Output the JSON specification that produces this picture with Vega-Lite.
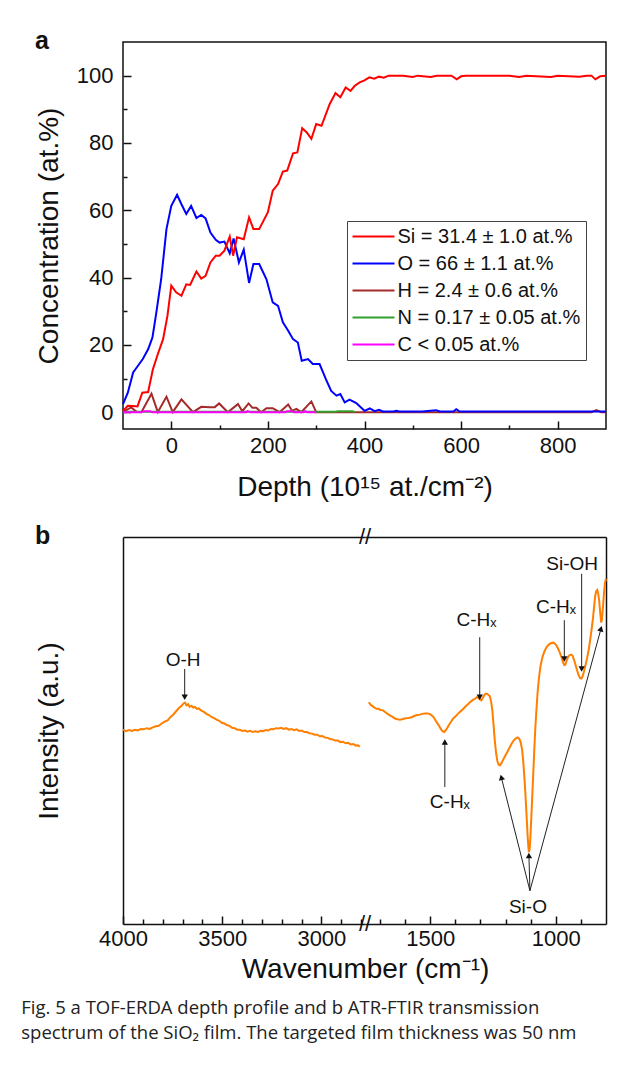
{
  "$schema": "https://vega.github.io/schema/vega-lite/v6.json",
  "background": "white",
  "padding": {"left": 21, "top": 28, "right": 5, "bottom": 5},
  "config": {
    "font": "Liberation Sans",
    "view": {"stroke": null},
    "axis": {"grid": false, "labelFlush": false, "labelOverlap": false, "labelFont": "Liberation Sans", "labelFontSize": 22, "labelColor": "#111", "titleFont": "Liberation Sans", "titleFontSize": 28, "titleFontWeight": "normal", "titleColor": "#111", "tickColor": "#111", "tickWidth": 1.5, "domainColor": "#111", "domainWidth": 1.5}
  },
  "title": {"text": ["Fig. 5 a TOF-ERDA depth profile and b ATR-FTIR transmission", "spectrum of the SiO₂ film. The targeted film thickness was 50 nm"], "orient": "bottom", "anchor": "start", "frame": "bounds", "font": "Open Sans", "fontSize": 18.5, "fontWeight": "normal", "color": "#222", "lineHeight": 25, "offset": 16, "dx": -13, "baseline": "top"},
  "spacing": 22,
  "vconcat": [
    {
      "title": {"text": "a", "anchor": "start", "frame": "bounds", "font": "Liberation Sans", "fontSize": 25, "fontWeight": "bold", "color": "#111", "baseline": "alphabetic", "offset": -32},
      "width": 483,
      "height": 387,
      "view": {"stroke": "#111", "strokeWidth": 1.5},
      "data": {"values": [
        {"e":"Si","d":-100,"c":0.4},{"e":"Si","d":-90,"c":1.9},{"e":"Si","d":-80,"c":1.8},{"e":"Si","d":-70,"c":1.7},{"e":"Si","d":-60,"c":5.8},{"e":"Si","d":-48,"c":6.0},{"e":"Si","d":-38,"c":12.8},{"e":"Si","d":-28,"c":17.2},{"e":"Si","d":-17,"c":21.7},{"e":"Si","d":-8,"c":28.6},{"e":"Si","d":0,"c":37.6},{"e":"Si","d":10,"c":35.6},{"e":"Si","d":21,"c":34.6},{"e":"Si","d":31,"c":38.0},{"e":"Si","d":39,"c":37.8},{"e":"Si","d":52,"c":41.8},{"e":"Si","d":62,"c":39.7},{"e":"Si","d":71,"c":40.5},{"e":"Si","d":81,"c":44.5},{"e":"Si","d":92,"c":46.5},{"e":"Si","d":100,"c":46.5},{"e":"Si","d":110,"c":48.0},{"e":"Si","d":121,"c":52.2},{"e":"Si","d":128,"c":46.5},{"e":"Si","d":136,"c":52.0},{"e":"Si","d":150,"c":51.4},{"e":"Si","d":161,"c":57.9},{"e":"Si","d":170,"c":54.4},{"e":"Si","d":182,"c":54.4},{"e":"Si","d":200,"c":59.4},{"e":"Si","d":210,"c":65.8},{"e":"Si","d":221,"c":67.8},{"e":"Si","d":231,"c":71.5},{"e":"Si","d":240,"c":71.8},{"e":"Si","d":252,"c":76.9},{"e":"Si","d":261,"c":77.2},{"e":"Si","d":271,"c":84.4},{"e":"Si","d":280,"c":83.2},{"e":"Si","d":290,"c":81.2},{"e":"Si","d":300,"c":85.6},{"e":"Si","d":311,"c":85.1},{"e":"Si","d":328,"c":91.6},{"e":"Si","d":340,"c":94.8},{"e":"Si","d":350,"c":93.6},{"e":"Si","d":361,"c":96.5},{"e":"Si","d":371,"c":95.5},{"e":"Si","d":380,"c":97.0},{"e":"Si","d":390,"c":98.0},{"e":"Si","d":400,"c":98.6},{"e":"Si","d":410,"c":99.5},{"e":"Si","d":420,"c":99.1},{"e":"Si","d":430,"c":99.7},{"e":"Si","d":440,"c":99.4},{"e":"Si","d":450,"c":100},{"e":"Si","d":480,"c":100},{"e":"Si","d":500,"c":99.6},{"e":"Si","d":510,"c":100},{"e":"Si","d":537,"c":99.6},{"e":"Si","d":550,"c":100},{"e":"Si","d":580,"c":100},{"e":"Si","d":591,"c":98.9},{"e":"Si","d":600,"c":99.8},{"e":"Si","d":610,"c":100},{"e":"Si","d":700,"c":100},{"e":"Si","d":720,"c":99.6},{"e":"Si","d":735,"c":100},{"e":"Si","d":786,"c":99.6},{"e":"Si","d":800,"c":100},{"e":"Si","d":845,"c":99.7},{"e":"Si","d":860,"c":100},{"e":"Si","d":870,"c":100},{"e":"Si","d":878,"c":98.9},{"e":"Si","d":888,"c":99.8},{"e":"Si","d":900,"c":100},
        {"e":"O","d":-100,"c":2.4},{"e":"O","d":-90,"c":5.8},{"e":"O","d":-79,"c":11.8},{"e":"O","d":-69,"c":13.8},{"e":"O","d":-59,"c":15.8},{"e":"O","d":-48,"c":18.7},{"e":"O","d":-39,"c":22.2},{"e":"O","d":-31,"c":29.6},{"e":"O","d":-21,"c":39.5},{"e":"O","d":-10,"c":54.4},{"e":"O","d":0,"c":61.3},{"e":"O","d":12,"c":64.6},{"e":"O","d":21,"c":61.8},{"e":"O","d":31,"c":58.9},{"e":"O","d":41,"c":61.3},{"e":"O","d":52,"c":57.7},{"e":"O","d":62,"c":58.6},{"e":"O","d":71,"c":57.6},{"e":"O","d":81,"c":53.4},{"e":"O","d":92,"c":51.2},{"e":"O","d":100,"c":50.4},{"e":"O","d":110,"c":50.7},{"e":"O","d":121,"c":47.2},{"e":"O","d":129,"c":51.6},{"e":"O","d":140,"c":44.5},{"e":"O","d":150,"c":48.3},{"e":"O","d":161,"c":38.4},{"e":"O","d":170,"c":44.0},{"e":"O","d":182,"c":44.0},{"e":"O","d":197,"c":39.5},{"e":"O","d":210,"c":32.6},{"e":"O","d":221,"c":31.6},{"e":"O","d":231,"c":26.7},{"e":"O","d":242,"c":24.2},{"e":"O","d":252,"c":21.7},{"e":"O","d":262,"c":20.7},{"e":"O","d":270,"c":15.3},{"e":"O","d":283,"c":15.8},{"e":"O","d":293,"c":14.3},{"e":"O","d":307,"c":14.3},{"e":"O","d":320,"c":9.8},{"e":"O","d":331,"c":6.3},{"e":"O","d":342,"c":4.9},{"e":"O","d":350,"c":5.4},{"e":"O","d":359,"c":2.9},{"e":"O","d":369,"c":3.7},{"e":"O","d":383,"c":2.7},{"e":"O","d":400,"c":0.4},{"e":"O","d":411,"c":1.1},{"e":"O","d":421,"c":0.3},{"e":"O","d":430,"c":0.7},{"e":"O","d":438,"c":0.2},{"e":"O","d":460,"c":0.2},{"e":"O","d":466,"c":0.4},{"e":"O","d":472,"c":0.2},{"e":"O","d":520,"c":0.2},{"e":"O","d":548,"c":0.6},{"e":"O","d":556,"c":0.2},{"e":"O","d":584,"c":0.2},{"e":"O","d":590,"c":0.9},{"e":"O","d":597,"c":0.2},{"e":"O","d":900,"c":0.2},
        {"e":"H","d":-100,"c":0.1},{"e":"H","d":-83,"c":1.4},{"e":"H","d":-72,"c":0.1},{"e":"H","d":-62,"c":0},{"e":"H","d":-41,"c":5.5},{"e":"H","d":-28,"c":0},{"e":"H","d":-10,"c":4.6},{"e":"H","d":3,"c":0},{"e":"H","d":21,"c":3.8},{"e":"H","d":45,"c":0},{"e":"H","d":62,"c":1.6},{"e":"H","d":79,"c":1.5},{"e":"H","d":90,"c":1.5},{"e":"H","d":99,"c":2.6},{"e":"H","d":117,"c":0},{"e":"H","d":138,"c":2.4},{"e":"H","d":147,"c":0.3},{"e":"H","d":160,"c":2.6},{"e":"H","d":168,"c":1.3},{"e":"H","d":176,"c":1.3},{"e":"H","d":186,"c":0},{"e":"H","d":197,"c":1.2},{"e":"H","d":210,"c":1.2},{"e":"H","d":224,"c":0},{"e":"H","d":242,"c":2.3},{"e":"H","d":250,"c":0.4},{"e":"H","d":259,"c":1.0},{"e":"H","d":269,"c":0},{"e":"H","d":290,"c":3.2},{"e":"H","d":300,"c":0},{"e":"H","d":870,"c":0},{"e":"H","d":880,"c":0.6},{"e":"H","d":890,"c":0},{"e":"H","d":900,"c":0},
        {"e":"N","d":-100,"c":0.1},{"e":"N","d":-40,"c":0.15},{"e":"N","d":50,"c":0.1},{"e":"N","d":150,"c":0.15},{"e":"N","d":250,"c":0.1},{"e":"N","d":340,"c":0.1},{"e":"N","d":345,"c":0.25},{"e":"N","d":375,"c":0.25},{"e":"N","d":380,"c":0.05},
        {"e":"C","d":-100,"c":0},{"e":"C","d":-62,"c":0},{"e":"C","d":-57,"c":0.3},{"e":"C","d":-44,"c":0.3},{"e":"C","d":-40,"c":0},{"e":"C","d":155,"c":0},{"e":"C","d":158,"c":0.3},{"e":"C","d":164,"c":0},{"e":"C","d":236,"c":0},{"e":"C","d":240,"c":0.3},{"e":"C","d":250,"c":0.3},{"e":"C","d":254,"c":0},{"e":"C","d":274,"c":0},{"e":"C","d":277,"c":0.3},{"e":"C","d":281,"c":0},{"e":"C","d":300,"c":0}
      ]},
      "encoding": {
        "x": {"field": "d", "type": "quantitative", "scale": {"domain": [-100, 900], "nice": false, "zero": false}, "axis": null},
        "y": {"field": "c", "type": "quantitative", "scale": {"domain": [-5, 110], "nice": false, "zero": false}, "axis": null},
        "color": {"field": "e", "type": "nominal", "scale": {"domain": ["Si", "O", "H", "N", "C"], "range": ["#ff0000", "#0000ff", "#a52a2a", "#33a02c", "#ff00ff"]},
          "legend": {"title": null, "orient": "none", "legendX": 224, "legendY": 179, "symbolType": "stroke", "symbolSize": 2116, "symbolOffset": -5, "clipHeight": 20, "labelFontSize": 20, "labelFont": "Liberation Sans", "labelColor": "#111", "labelOffset": 2, "rowPadding": 7, "padding": 5.5, "strokeColor": "#444", "fillColor": "white", "labelLimit": 400,
            "labelExpr": "{'Si': 'Si = 31.4 ± 1.0 at.%', 'O': 'O = 66 ± 1.1 at.%', 'H': 'H = 2.4 ± 0.6 at.%', 'N': 'N = 0.17 ± 0.05 at.%', 'C': 'C < 0.05 at.%'}[datum.label]"}},
        "strokeWidth": {"field": "e", "type": "nominal", "scale": {"domain": ["Si", "O", "H", "N", "C"], "range": [2, 2, 1.2, 1.5, 1.5]},
          "legend": {"title": null, "orient": "none", "legendX": 224, "legendY": 179, "symbolType": "stroke", "symbolSize": 2116, "symbolOffset": -5, "clipHeight": 20, "labelFontSize": 20, "labelFont": "Liberation Sans", "labelColor": "#111", "labelOffset": 2, "rowPadding": 7, "padding": 5.5, "strokeColor": "#444", "fillColor": "white", "labelLimit": 400,
            "labelExpr": "{'Si': 'Si = 31.4 ± 1.0 at.%', 'O': 'O = 66 ± 1.1 at.%', 'H': 'H = 2.4 ± 0.6 at.%', 'N': 'N = 0.17 ± 0.05 at.%', 'C': 'C < 0.05 at.%'}[datum.label]"}}
      },
      "layer": [
        {"transform": [{"filter": "datum.e === 'H'"}], "mark": {"type": "line"},
          "encoding": {
            "x": {"field": "d", "type": "quantitative", "scale": {"domain": [-100, 900], "nice": false, "zero": false},
              "axis": {"orient": "bottom", "values": [0, 200, 400, 600, 800], "format": "d", "tickSize": -8, "labelPadding": 14, "domain": false, "title": "Depth (10¹⁵ at./cm⁻²)", "titleX": 241.5, "titleY": 58, "titleAlign": "center", "titleBaseline": "middle"}},
            "y": {"field": "c", "type": "quantitative", "scale": {"domain": [-5, 110], "nice": false, "zero": false},
              "axis": {"orient": "left", "values": [0, 20, 40, 60, 80, 100], "format": "d", "tickSize": -8, "labelPadding": 18, "domain": false, "title": "Concentration (at.%)", "titleX": -74, "titleBaseline": "middle", "titleAlign": "center"}}
          }},
        {"transform": [{"filter": "datum.e === 'N'"}], "mark": {"type": "line"},
          "encoding": {
            "x": {"field": "d", "type": "quantitative", "scale": {"domain": [-100, 900], "nice": false, "zero": false},
              "axis": {"orient": "bottom", "values": [100, 300, 500, 700], "tickSize": -4, "labels": false, "domain": false, "title": null}},
            "y": {"field": "c", "type": "quantitative", "scale": {"domain": [-5, 110], "nice": false, "zero": false},
              "axis": {"orient": "left", "values": [10, 30, 50, 70, 90], "tickSize": -4, "labels": false, "domain": false, "title": null}}
          }},
        {"transform": [{"filter": "datum.e === 'C'"}], "mark": {"type": "line"}},
        {"transform": [{"filter": "datum.e === 'O'"}], "mark": {"type": "line"}},
        {"transform": [{"filter": "datum.e === 'Si'"}], "mark": {"type": "line"}}
      ],
      "resolve": {"axis": {"x": "independent", "y": "independent"}}
    },
    {
      "title": {"text": "b", "anchor": "start", "frame": "bounds", "font": "Liberation Sans", "fontSize": 25, "fontWeight": "bold", "color": "#111", "baseline": "alphabetic", "offset": -43},
      "spacing": 0,
      "bounds": "flush",
      "hconcat": [
        {
          "width": 242,
          "height": 387,
          "layer": [
            {"data": {"values": [
              {"w":4000,"i":50.2},{"w":3985,"i":49.8},{"w":3970,"i":50.1},{"w":3955,"i":49.9},{"w":3940,"i":50.2},{"w":3925,"i":50.0},{"w":3910,"i":50.4},{"w":3895,"i":50.3},{"w":3880,"i":50.6},{"w":3865,"i":50.4},{"w":3850,"i":50.8},{"w":3835,"i":51.1},{"w":3820,"i":51.2},{"w":3805,"i":51.8},{"w":3790,"i":52.3},{"w":3775,"i":52.6},{"w":3760,"i":53.5},{"w":3745,"i":54.2},{"w":3730,"i":55.1},{"w":3718,"i":55.8},{"w":3706,"i":56.3},{"w":3695,"i":57.0},{"w":3688,"i":57.2},{"w":3680,"i":56.5},{"w":3672,"i":56.8},{"w":3664,"i":56.1},{"w":3655,"i":56.4},{"w":3646,"i":55.9},{"w":3637,"i":56.1},{"w":3628,"i":55.6},{"w":3618,"i":55.7},{"w":3605,"i":55.1},{"w":3592,"i":54.8},{"w":3580,"i":54.3},{"w":3567,"i":54.0},{"w":3554,"i":53.5},{"w":3541,"i":53.2},{"w":3528,"i":52.8},{"w":3515,"i":52.5},{"w":3502,"i":52.0},{"w":3489,"i":51.8},{"w":3476,"i":51.4},{"w":3463,"i":51.2},{"w":3450,"i":50.7},{"w":3437,"i":50.6},{"w":3424,"i":50.2},{"w":3411,"i":50.2},{"w":3398,"i":49.9},{"w":3385,"i":50.0},{"w":3372,"i":49.7},{"w":3359,"i":49.9},{"w":3346,"i":49.6},{"w":3333,"i":49.8},{"w":3320,"i":49.6},{"w":3307,"i":49.9},{"w":3294,"i":49.8},{"w":3281,"i":50.1},{"w":3268,"i":50.0},{"w":3255,"i":50.4},{"w":3242,"i":50.3},{"w":3229,"i":50.6},{"w":3216,"i":50.5},{"w":3203,"i":50.7},{"w":3190,"i":50.4},{"w":3177,"i":50.6},{"w":3164,"i":50.2},{"w":3151,"i":50.4},{"w":3138,"i":50.1},{"w":3125,"i":50.3},{"w":3112,"i":49.9},{"w":3099,"i":50.0},{"w":3086,"i":49.6},{"w":3073,"i":49.6},{"w":3060,"i":49.3},{"w":3047,"i":49.2},{"w":3034,"i":48.9},{"w":3021,"i":48.9},{"w":3008,"i":48.5},{"w":2995,"i":48.6},{"w":2982,"i":48.2},{"w":2969,"i":48.1},{"w":2956,"i":47.8},{"w":2943,"i":47.7},{"w":2930,"i":47.4},{"w":2917,"i":47.4},{"w":2904,"i":47.0},{"w":2891,"i":47.1},{"w":2878,"i":46.7},{"w":2865,"i":46.8},{"w":2852,"i":46.4},{"w":2839,"i":46.5},{"w":2826,"i":46.1},{"w":2815,"i":46.2},{"w":2806,"i":45.8}
            ]},
              "mark": {"type": "line", "color": "#ff7f00", "strokeWidth": 2},
              "encoding": {
                "x": {"field": "w", "type": "quantitative", "scale": {"domain": [4000, 2780], "nice": false, "zero": false},
                  "axis": {"orient": "bottom", "values": [4000, 3500, 3000], "format": "d", "tickSize": -8, "labelPadding": 12, "domain": true, "title": "Wavenumber (cm⁻¹)", "titleX": 242, "titleY": 45, "titleAlign": "center", "titleBaseline": "middle"}},
                "y": {"field": "i", "type": "quantitative", "scale": {"domain": [0, 100], "nice": false, "zero": false},
                  "axis": {"orient": "left", "ticks": false, "labels": false, "domain": true, "title": "Intensity (a.u.)", "titleX": -74, "titleBaseline": "middle", "titleAlign": "center"}}
              }},
            {"data": {"values": [{"w": 3689, "i": 65.9, "w2": 3689, "i2": 58.6}]},
              "mark": {"type": "rule", "color": "#222", "strokeWidth": 1},
              "encoding": {
                "x": {"field": "w", "type": "quantitative", "scale": {"domain": [4000, 2780], "nice": false, "zero": false},
                  "axis": {"orient": "bottom", "values": [3900, 3800, 3700, 3600, 3400, 3300, 3200, 3100, 2900, 2800], "tickSize": -5, "labels": false, "domain": false, "title": null}},
                "y": {"field": "i", "type": "quantitative", "scale": {"domain": [0, 100], "nice": false, "zero": false}, "axis": null},
                "x2": {"field": "w2"},
                "y2": {"field": "i2"}
              }},
            {"data": {"values": [{"w": 3689, "i": 65.9, "w2": 3689, "i2": 58.6}]},
              "transform": [{"calculate": "atan2((datum.w - datum.w2) * 0.1984, (datum.i2 - datum.i) * 3.87) * 180 / PI", "as": "ang"}],
              "mark": {"type": "point", "shape": "triangle-up", "filled": true, "size": 40, "color": "#111", "opacity": 1},
              "encoding": {
                "x": {"field": "w2", "type": "quantitative", "scale": {"domain": [4000, 2780], "nice": false, "zero": false},
                  "axis": {"orient": "top", "ticks": false, "labels": false, "domain": true, "title": null}},
                "y": {"field": "i2", "type": "quantitative", "scale": {"domain": [0, 100], "nice": false, "zero": false}, "axis": null},
                "angle": {"field": "ang", "type": "quantitative", "scale": null}
              }},
            {"data": {"values": [{"w": 3697, "i": 68.1, "t": "O-H"}]},
              "mark": {"type": "text", "font": "Liberation Sans", "fontSize": 19, "color": "#111", "align": "center", "baseline": "middle"},
              "encoding": {
                "x": {"field": "w", "type": "quantitative", "scale": {"domain": [4000, 2780], "nice": false, "zero": false}, "axis": null},
                "y": {"field": "i", "type": "quantitative", "scale": {"domain": [0, 100], "nice": false, "zero": false}, "axis": null},
                "text": {"field": "t"}
              }}
          ],
          "resolve": {"axis": {"x": "independent", "y": "independent"}}
        },
        {
          "width": 241,
          "height": 387,
          "layer": [
            {"data": {"values": [
              {"w":1745,"i":57.3},{"w":1737,"i":56.6},{"w":1730,"i":56.3},{"w":1722,"i":55.9},{"w":1714,"i":55.6},{"w":1706,"i":55.6},{"w":1698,"i":55.3},{"w":1688,"i":55.2},{"w":1680,"i":54.8},{"w":1670,"i":54.3},{"w":1661,"i":53.9},{"w":1652,"i":53.6},{"w":1641,"i":53.1},{"w":1630,"i":52.9},{"w":1621,"i":52.8},{"w":1612,"i":52.9},{"w":1602,"i":53.1},{"w":1592,"i":53.2},{"w":1582,"i":53.3},{"w":1572,"i":53.5},{"w":1562,"i":53.8},{"w":1552,"i":54.0},{"w":1542,"i":54.1},{"w":1532,"i":54.3},{"w":1522,"i":54.4},{"w":1512,"i":54.4},{"w":1502,"i":54.3},{"w":1494,"i":53.9},{"w":1486,"i":53.4},{"w":1479,"i":52.6},{"w":1472,"i":51.9},{"w":1465,"i":51.2},{"w":1458,"i":50.4},{"w":1451,"i":49.8},{"w":1445,"i":49.6},{"w":1439,"i":50.0},{"w":1432,"i":50.7},{"w":1425,"i":51.5},{"w":1418,"i":52.2},{"w":1410,"i":53.0},{"w":1400,"i":53.6},{"w":1390,"i":54.3},{"w":1380,"i":54.9},{"w":1370,"i":55.5},{"w":1360,"i":56.2},{"w":1350,"i":56.8},{"w":1340,"i":57.4},{"w":1330,"i":57.9},{"w":1322,"i":58.2},{"w":1314,"i":58.6},{"w":1308,"i":58.4},{"w":1302,"i":58.0},{"w":1297,"i":57.8},{"w":1292,"i":58.3},{"w":1286,"i":59.0},{"w":1280,"i":59.5},{"w":1274,"i":59.5},{"w":1268,"i":59.2},{"w":1263,"i":58.9},{"w":1258,"i":57.6},{"w":1253,"i":55.4},{"w":1248,"i":51.5},{"w":1243,"i":47.4},{"w":1238,"i":44.3},{"w":1233,"i":42.2},{"w":1228,"i":41.2},{"w":1223,"i":41.0},{"w":1217,"i":41.5},{"w":1210,"i":42.4},{"w":1202,"i":43.4},{"w":1194,"i":44.3},{"w":1185,"i":45.5},{"w":1176,"i":46.6},{"w":1168,"i":47.4},{"w":1160,"i":47.9},{"w":1152,"i":48.2},{"w":1146,"i":47.9},{"w":1140,"i":47.0},{"w":1134,"i":45.0},{"w":1129,"i":41.5},{"w":1124,"i":36.8},{"w":1120,"i":32.5},{"w":1116,"i":27.5},{"w":1112,"i":22.5},{"w":1109,"i":19.8},{"w":1107,"i":18.6},{"w":1104,"i":19.5},{"w":1101,"i":22.5},{"w":1098,"i":26.8},{"w":1094,"i":32.5},{"w":1090,"i":38.5},{"w":1086,"i":44.5},{"w":1082,"i":50.0},{"w":1077,"i":55.5},{"w":1072,"i":60.2},{"w":1066,"i":64.2},{"w":1060,"i":67.0},{"w":1053,"i":69.0},{"w":1045,"i":70.5},{"w":1037,"i":71.5},{"w":1028,"i":72.2},{"w":1018,"i":72.6},{"w":1009,"i":72.7},{"w":1000,"i":72.2},{"w":992,"i":71.3},{"w":984,"i":70.1},{"w":977,"i":68.9},{"w":971,"i":67.6},{"w":966,"i":66.9},{"w":962,"i":67.0},{"w":957,"i":68.0},{"w":951,"i":69.0},{"w":945,"i":69.5},{"w":939,"i":69.6},{"w":933,"i":69.3},{"w":927,"i":68.2},{"w":921,"i":66.9},{"w":915,"i":65.5},{"w":909,"i":64.3},{"w":903,"i":63.5},{"w":898,"i":63.4},{"w":893,"i":64.0},{"w":888,"i":65.2},{"w":882,"i":66.8},{"w":876,"i":68.5},{"w":870,"i":70.4},{"w":864,"i":73.0},{"w":858,"i":75.8},{"w":852,"i":78.9},{"w":847,"i":82.2},{"w":843,"i":84.8},{"w":839,"i":86.0},{"w":835,"i":86.3},{"w":831,"i":85.4},{"w":827,"i":83.4},{"w":823,"i":80.4},{"w":819,"i":77.9},{"w":816,"i":78.8},{"w":812,"i":82.0},{"w":808,"i":85.5},{"w":804,"i":88.2},{"w":800,"i":89.2}
            ]},
              "mark": {"type": "line", "color": "#ff7f00", "strokeWidth": 2},
              "encoding": {
                "x": {"field": "w", "type": "quantitative", "scale": {"domain": [1760, 800], "nice": false, "zero": false},
                  "axis": {"orient": "bottom", "values": [1500, 1000], "format": "d", "tickSize": -8, "labelPadding": 12, "domain": true, "title": null}},
                "y": {"field": "i", "type": "quantitative", "scale": {"domain": [0, 100], "nice": false, "zero": false},
                  "axis": {"orient": "right", "ticks": false, "labels": false, "domain": true, "title": null}}
              }},
            {"data": {"values": [
              {"w": 1303, "i": 74.1, "w2": 1303, "i2": 58.6},
              {"w": 1442, "i": 35.4, "w2": 1442, "i2": 47.0},
              {"w": 966, "i": 78.5, "w2": 966, "i2": 68.5},
              {"w": 897, "i": 90.5, "w2": 897, "i2": 65.9},
              {"w": 1103, "i": 8.6, "w2": 1217, "i2": 37.9},
              {"w": 1103, "i": 8.6, "w2": 1107, "i2": 17.7},
              {"w": 1103, "i": 8.6, "w2": 820, "i2": 76.3}
            ]},
              "mark": {"type": "rule", "color": "#222", "strokeWidth": 1},
              "encoding": {
                "x": {"field": "w", "type": "quantitative", "scale": {"domain": [1760, 800], "nice": false, "zero": false},
                  "axis": {"orient": "bottom", "values": [1700, 1600, 1400, 1300, 1200, 1100, 900], "tickSize": -5, "labels": false, "domain": false, "title": null}},
                "y": {"field": "i", "type": "quantitative", "scale": {"domain": [0, 100], "nice": false, "zero": false}, "axis": null},
                "x2": {"field": "w2"},
                "y2": {"field": "i2"}
              }},
            {"data": {"values": [
              {"w": 1303, "i": 74.1, "w2": 1303, "i2": 58.6},
              {"w": 1442, "i": 35.4, "w2": 1442, "i2": 47.0},
              {"w": 966, "i": 78.5, "w2": 966, "i2": 68.5},
              {"w": 897, "i": 90.5, "w2": 897, "i2": 65.9},
              {"w": 1103, "i": 8.6, "w2": 1217, "i2": 37.9},
              {"w": 1103, "i": 8.6, "w2": 1107, "i2": 17.7},
              {"w": 1103, "i": 8.6, "w2": 820, "i2": 76.3}
            ]},
              "transform": [{"calculate": "atan2((datum.w - datum.w2) * 0.251, (datum.i2 - datum.i) * 3.87) * 180 / PI", "as": "ang"}],
              "mark": {"type": "point", "shape": "triangle-up", "filled": true, "size": 40, "color": "#111", "opacity": 1},
              "encoding": {
                "x": {"field": "w2", "type": "quantitative", "scale": {"domain": [1760, 800], "nice": false, "zero": false},
                  "axis": {"orient": "top", "ticks": false, "labels": false, "domain": true, "title": null}},
                "y": {"field": "i2", "type": "quantitative", "scale": {"domain": [0, 100], "nice": false, "zero": false}, "axis": null},
                "angle": {"field": "ang", "type": "quantitative", "scale": null}
              }},
            {"data": {"values": [
              {"w": 1316, "i": 78.5, "t": "C-Hₓ"},
              {"w": 1422, "i": 31.5, "t": "C-Hₓ"},
              {"w": 999, "i": 81.9, "t": "C-Hₓ"},
              {"w": 935, "i": 93.1, "t": "Si-OH"},
              {"w": 1111, "i": 4.3, "t": "Si-O"}
            ]},
              "mark": {"type": "text", "font": "Liberation Sans", "fontSize": 19, "color": "#111", "align": "center", "baseline": "middle"},
              "encoding": {
                "x": {"field": "w", "type": "quantitative", "scale": {"domain": [1760, 800], "nice": false, "zero": false}, "axis": null},
                "y": {"field": "i", "type": "quantitative", "scale": {"domain": [0, 100], "nice": false, "zero": false}, "axis": null},
                "text": {"field": "t"}
              }},
            {"data": {"values": [{"w": 1760, "i": 100, "t": "//"}, {"w": 1760, "i": 0, "t": "//"}]},
              "mark": {"type": "text", "font": "Liberation Sans", "fontSize": 22, "color": "#111", "align": "center", "baseline": "middle"},
              "encoding": {
                "x": {"field": "w", "type": "quantitative", "scale": {"domain": [1760, 800], "nice": false, "zero": false}, "axis": null},
                "y": {"field": "i", "type": "quantitative", "scale": {"domain": [0, 100], "nice": false, "zero": false}, "axis": null},
                "text": {"field": "t"}
              }}
          ],
          "resolve": {"axis": {"x": "independent", "y": "independent"}}
        }
      ]
    }
  ]
}
